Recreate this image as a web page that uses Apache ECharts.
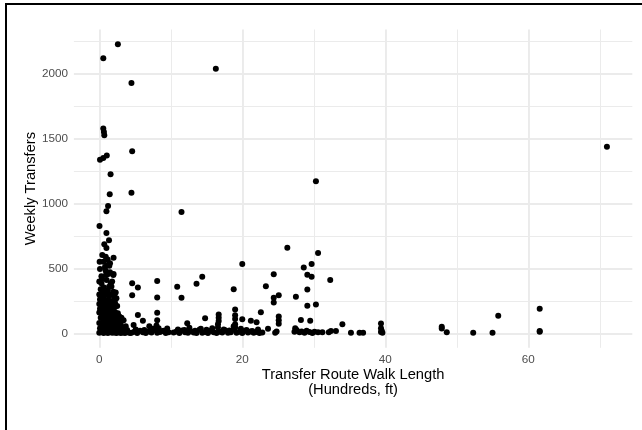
<!DOCTYPE html>
<html>
<head>
<meta charset="utf-8">
<script src="https://cdn.jsdelivr.net/npm/echarts@6/dist/echarts.min.js"></script>
<style>
html,body{margin:0;padding:0;background:#fff;}
#chart{width:642px;height:430px;}
</style>
</head>
<body>
<div id="chart"></div>
<script>
// [walk length (hundreds ft), weekly transfers]
const tallColumn = [[0.56,2119],[2.6,2227],[0.56,1577],[0.65,1551],[0.7,1525],[0.1,1338],[0.56,1351],[1.05,1370],[1.58,1225],[1.46,1071],[1.23,981],[1.0,940],[0.03,827],[1.0,773],[1.36,717],[0.7,686],[1.0,657],[0.42,603],[0.05,552],[0.56,552],[1.17,568],[2.0,582],[1.5,539],[1.12,526],[0.9,482],[1.26,457],[2.0,457],[0.94,449],[1.96,449],[0.3,385],[1.03,410],[1.6,385],[1.36,359],[0.2,340],[0.6,355],[1.2,330],[0.4,420],[1.5,470],[0.8,510],[0.0,400],[1.8,400],[0.3,440],[1.7,360],[0.1,495],[1.4,520],[0.9,590]];
const baseCluster = [[0.0,300],[0.2,280],[0.5,310],[0.8,295],[1.1,305],[1.4,290],[1.7,300],[2.1,285],[2.4,270],[0.1,260],[0.4,250],[0.7,265],[1.0,245],[1.3,255],[1.6,240],[1.9,250],[2.2,235],[0.0,225],[0.3,215],[0.6,230],[0.9,210],[1.2,220],[1.5,205],[1.8,215],[2.1,200],[2.5,210],[0.1,190],[0.4,180],[0.7,195],[1.0,175],[1.3,185],[1.6,170],[1.9,180],[2.2,165],[2.6,155],[0.0,160],[0.3,150],[0.6,140],[0.9,155],[1.2,135],[1.5,145],[1.8,130],[2.1,140],[2.4,125],[2.8,130],[3.1,120],[0.2,120],[0.5,110],[0.8,100],[1.1,115],[1.4,95],[1.7,105],[2.0,90],[2.3,100],[2.7,95],[3.0,85],[3.4,100],[0.0,80],[0.3,70],[0.6,85],[0.9,65],[1.2,75],[1.5,60],[1.8,70],[2.1,55],[2.4,65],[2.7,50],[3.0,60],[3.3,45],[3.7,55],[0.1,40],[0.4,30],[0.7,45],[1.0,25],[1.3,35],[1.6,20],[1.9,30],[2.2,15],[2.5,35],[2.8,20],[3.1,30],[3.5,15],[3.9,25],[0.0,5],[0.3,10],[0.6,2],[0.9,8],[1.2,3],[1.5,12],[1.8,4],[2.1,6],[2.4,2],[2.7,9],[3.0,3],[3.3,6],[3.6,2],[4.0,8],[4.3,3],[1.96,320],[2.3,315],[0.5,325]];
const bottomStrip = [[4.5,5],[4.9,12],[5.3,3],[5.7,20],[6.1,8],[6.5,2],[6.9,15],[7.3,6],[7.7,25],[8.1,4],[8.5,10],[8.9,18],[9.3,3],[9.7,8],[10.4,6],[10.8,14],[11.2,3],[11.6,22],[12.0,9],[12.4,4],[12.8,16],[13.2,7],[13.6,2],[14.0,28],[14.4,5],[14.8,11],[15.2,3],[15.6,19],[16.0,8],[16.4,2],[16.8,13],[17.2,6],[17.6,24],[18.0,4],[18.4,9],[18.8,30],[19.2,5],[19.6,12],[20.0,3],[20.4,20],[20.8,7],[21.2,15],[21.6,4],[22.0,10],[22.4,2],[22.8,6],[5.1,30],[6.3,25],[7.5,35],[8.3,40],[9.0,20],[9.5,38],[11.0,30],[11.9,25],[12.6,42],[13.4,20],[14.2,35],[15.0,28],[15.8,40],[16.6,45],[17.4,30],[18.2,22],[19.0,45],[19.8,35],[20.6,25],[21.4,18],[22.2,30],[27.3,12],[27.6,25],[28.0,8],[28.3,15],[28.7,5],[29.0,20],[29.4,10],[29.8,3],[30.1,12],[30.6,8],[31.2,8],[32.1,8],[32.4,18],[33.1,18],[35.2,4],[36.4,4],[36.9,4],[24.6,5],[23.6,35],[24.8,15]];
const scattered = [[16.3,2039],[4.5,1929],[4.6,1402],[4.5,1083],[71.0,1438],[30.3,1171],[11.5,935],[26.3,659],[30.6,618],[20.0,535],[29.7,535],[28.6,507],[24.4,456],[29.1,452],[29.7,436],[32.3,410],[14.4,436],[13.6,382],[4.6,385],[5.4,353],[8.1,403],[10.9,358],[18.8,339],[23.3,362],[29.1,337],[4.6,294],[8.1,276],[11.5,275],[24.4,274],[25.1,293],[24.4,238],[27.5,281],[29.1,212],[30.3,222],[8.1,158],[5.4,141],[6.1,97],[19.0,184],[22.6,163],[14.8,117],[16.7,145],[16.7,120],[16.7,95],[20.0,108],[21.2,97],[22.0,86],[25.1,130],[25.1,100],[25.1,74],[28.2,102],[29.5,97],[34.0,70],[39.4,75],[39.4,40],[47.9,50],[47.9,38],[48.6,8],[52.3,4],[55.0,4],[55.8,135],[61.6,190],[61.6,18],[61.6,12],[12.3,77],[4.8,64],[39.4,10],[39.5,20],[39.6,5],[19.0,140],[19.0,110],[19.0,70],[18.8,55],[16.6,70],[8.1,100],[8.0,60],[7.0,55],[27.4,39]];

const xTicks = [0, 20, 40, 60];
const yTicks = [0, 500, 1000, 1500, 2000];
const xGrid = [0, 10, 20, 30, 40, 50, 60, 70];
const yGrid = [0, 250, 500, 750, 1000, 1250, 1500, 1750, 2000, 2250];

const chart = echarts.init(document.getElementById('chart'), null, {renderer: 'canvas'});
const gridLines = [];
xGrid.forEach(v => gridLines.push({xAxis: v, lineStyle: {width: v % 20 === 0 ? 1.9 : 1.0}}));
yGrid.forEach(v => gridLines.push({yAxis: v, lineStyle: {width: v % 500 === 0 ? 1.9 : 1.0}}));

chart.setOption({
  animation: false,
  backgroundColor: '#ffffff',
  grid: {left: 73.9, right: 9.7, top: 29.5, bottom: 82.2, containLabel: false},
  xAxis: {
    type: 'value', min: -3.55, max: 74.55,
    axisLine: {show: false}, axisTick: {show: false}, splitLine: {show: false},
    axisLabel: {customValues: xTicks, formatter: v => String(v), color: '#4d4d4d', fontSize: 11.7, fontFamily: 'Liberation Sans, Arial', margin: 6},
    name: 'Transfer Route Walk Length\n(Hundreds, ft)', nameLocation: 'middle', nameGap: 20, nameMoveOverlap: false,
    nameTextStyle: {color: '#000', fontSize: 14.7, fontFamily: 'Liberation Sans, Arial', lineHeight: 15, verticalAlign: 'top'}
  },
  yAxis: {
    type: 'value', min: -111.5, max: 2340.5,
    axisLine: {show: false}, axisTick: {show: false}, splitLine: {show: false},
    axisLabel: {customValues: yTicks, formatter: v => String(v), color: '#4d4d4d', fontSize: 11.7, fontFamily: 'Liberation Sans, Arial', margin: 6},
    name: 'Weekly Transfers', nameLocation: 'middle', nameGap: 35, nameRotate: 90, nameMoveOverlap: false,
    nameTextStyle: {color: '#000', fontSize: 14.7, fontFamily: 'Liberation Sans, Arial'}
  },
  graphic: [
    {type: 'polyline', shape: {points: [[6, 430], [6, 4], [642, 4]]}, style: {stroke: '#000', lineWidth: 2, fill: null}, z: 100}
  ],
  series: [
    {type: 'scatter', data: [], silent: true, z: 1,
     markLine: {silent: true, symbol: ['none', 'none'], label: {show: false}, animation: false,
       lineStyle: {color: '#ebebeb', type: 'solid'}, data: gridLines}},
    {type: 'scatter', symbolSize: 6, z: 5, itemStyle: {color: '#000', opacity: 1},
     data: [].concat(tallColumn, baseCluster, bottomStrip, scattered)}
  ]
});
</script>
</body>
</html>
